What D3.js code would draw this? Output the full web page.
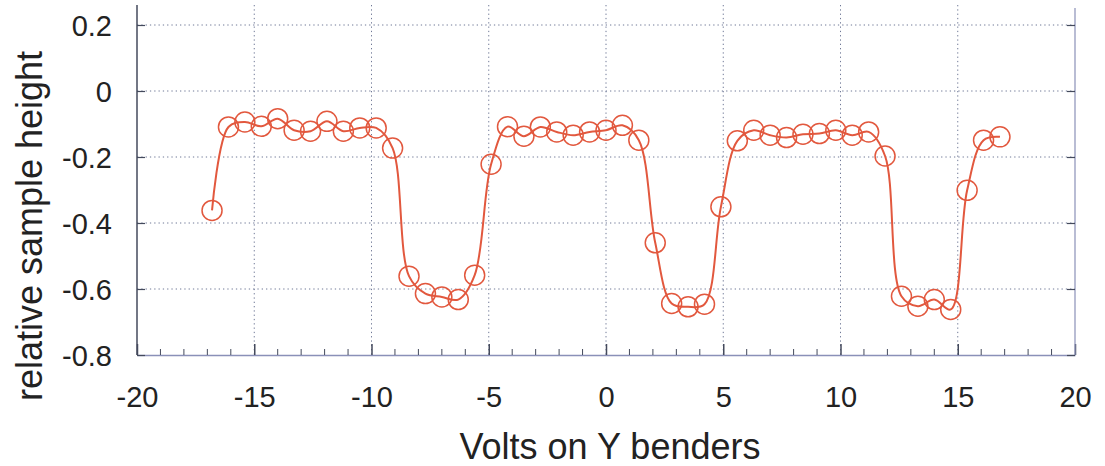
<!DOCTYPE html>
<html><head><meta charset="utf-8">
<script src="https://cdn.jsdelivr.net/npm/d3@7"></script>
<style>body{margin:0;background:#fff}svg{display:block}</style>
</head><body>
<script>
const volts = [-16.8,-16.1,-15.4,-14.7,-14.0,-13.3,-12.6,-11.9,-11.2,-10.5,-9.8,-9.1,-8.4,-7.7,-7.0,-6.3,-5.6,-4.9,-4.2,-3.5,-2.8,-2.1,-1.4,-0.7,0.0,0.7,1.4,2.1,2.8,3.5,4.2,4.9,5.6,6.3,7.0,7.7,8.4,9.1,9.8,10.5,11.2,11.9,12.6,13.3,14.0,14.7,15.4,16.1,16.8];
const height = [-0.362,-0.109,-0.094,-0.107,-0.084,-0.119,-0.122,-0.092,-0.122,-0.112,-0.112,-0.173,-0.561,-0.614,-0.624,-0.632,-0.558,-0.222,-0.108,-0.137,-0.109,-0.124,-0.134,-0.124,-0.119,-0.104,-0.149,-0.460,-0.644,-0.654,-0.646,-0.351,-0.151,-0.119,-0.134,-0.141,-0.131,-0.129,-0.119,-0.134,-0.124,-0.197,-0.622,-0.652,-0.632,-0.662,-0.301,-0.149,-0.139];
const xTicks = [-20,-15,-10,-5,0,5,10,15,20];
const yTicks = [-0.8,-0.6,-0.4,-0.2,0,0.2];
const xLabel = "Volts on Y benders";
const yLabel = "relative sample height";

const W = 1105, H = 466;
const L = 137, R = 1075, T = 5, B = 355;
const svg = d3.select("body").append("svg").attr("width", W).attr("height", H);
const x = d3.scaleLinear().domain([-20, 20]).range([L, R]);
const y = d3.scaleLinear().domain([-0.8, 0.2]).range([B, B - 330]);
const font = "'Liberation Sans', Arial, sans-serif";
const gridColor = "#6f7896";

// gridlines
const g = svg.append("g");
g.selectAll("line.vx").data(xTicks.filter(d => d > -20 && d < 20)).join("line")
  .attr("x1", d => x(d)).attr("x2", d => x(d)).attr("y1", T).attr("y2", B)
  .attr("stroke", gridColor).attr("stroke-width", 1).attr("stroke-dasharray", "1.3,3");
g.selectAll("line.hy").data(yTicks.filter(d => d > -0.8)).join("line")
  .attr("x1", L).attr("x2", R).attr("y1", d => y(d)).attr("y2", d => y(d))
  .attr("stroke", gridColor).attr("stroke-width", 1).attr("stroke-dasharray", "1.3,3");

// axes
const axisColor = "#444a5c";
const xAxis = d3.axisBottom(x).tickValues(xTicks).tickSizeInner(-11).tickSizeOuter(0).tickFormat(d3.format("d"));
const gx = svg.append("g").attr("transform", `translate(0,${B})`).call(xAxis);
gx.select(".domain").attr("stroke", "#8a90b8").attr("stroke-width", 1.5);
gx.selectAll(".tick line").attr("stroke", axisColor).attr("stroke-width", 1.5);
gx.selectAll(".tick text").attr("y", 52).attr("dy", null).attr("font-family", font).attr("font-size", 29).attr("fill", "#222")
  .text(d => d < 0 ? "-" + Math.abs(d) : d);
// minor ticks
const minor = d3.range(-19, 20).filter(v => v % 5 !== 0);
svg.append("g").selectAll("line").data(minor).join("line")
  .attr("x1", d => x(d)).attr("x2", d => x(d)).attr("y1", B).attr("y2", B - 6)
  .attr("stroke", axisColor).attr("stroke-width", 1);

const yAxis = d3.axisLeft(y).tickValues(yTicks).tickSizeInner(-8).tickSizeOuter(0);
const gy = svg.append("g").attr("transform", `translate(${L},0)`).call(yAxis);
gy.select(".domain").attr("stroke", axisColor).attr("stroke-width", 1.5).attr("d", `M0,${T}V${B}`);
gy.selectAll(".tick line").attr("stroke", axisColor).attr("stroke-width", 1.2);
gy.selectAll(".tick text").attr("x", -25).attr("dy", "0.36em").attr("font-family", font).attr("font-size", 29).attr("fill", "#222")
  .text(d => d === 0 ? "0" : (d < 0 ? "-" + d3.format(".1f")(Math.abs(d)) : d3.format(".1f")(d)));

const yAxisR = d3.axisRight(y).tickValues(yTicks).tickSizeInner(-8).tickSizeOuter(0).tickFormat("");
const gyr = svg.append("g").attr("transform", `translate(${R},0)`).call(yAxisR);
gyr.select(".domain").attr("stroke", "#8a90b8").attr("stroke-width", 1.2).attr("d", `M0,${T + 3}V${B}`);
gyr.selectAll(".tick line").attr("stroke", axisColor).attr("stroke-width", 1.2);

// data
const pts = volts.map((v, i) => [v, height[i]]);
const lineColor = "#e2583e";
svg.append("path").datum(pts)
  .attr("d", d3.line().x(d => x(d[0])).y(d => y(d[1])).curve(d3.curveCatmullRom.alpha(0.5)))
  .attr("fill", "none").attr("stroke", lineColor).attr("stroke-width", 2);
svg.append("g").selectAll("circle").data(pts).join("circle")
  .attr("cx", d => x(d[0])).attr("cy", d => y(d[1])).attr("r", 10)
  .attr("fill", "none").attr("stroke", lineColor).attr("stroke-width", 1.5);

// labels
svg.append("text").attr("x", 610).attr("y", 459).attr("text-anchor", "middle")
  .attr("font-family", font).attr("font-size", 36).attr("fill", "#222").text(xLabel);
svg.append("text").attr("transform", "translate(42,226) rotate(-90)").attr("text-anchor", "middle")
  .attr("font-family", font).attr("font-size", 36).attr("fill", "#222").text(yLabel);
</script>
</body></html>
